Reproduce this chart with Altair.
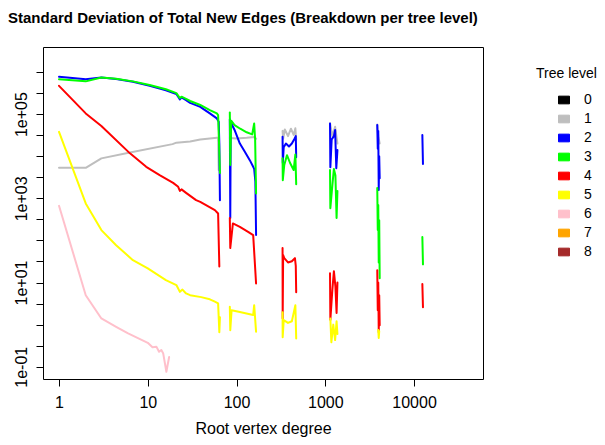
import altair as alt
import pandas as pd

FONT = "Liberation Sans, Arial, Helvetica, sans-serif"

levels = ["0", "1", "2", "3", "4", "5", "6", "7", "8"]
level_colors = ["#000000", "#BEBEBE", "#0000FF", "#00FF00", "#FF0000",
                "#FFFF00", "#FFC0CB", "#FFA500", "#A52A2A"]

x1 = [1, 2, 3, 6.3, 19, 21, 30, 39, 50, 60, 62, 63, None,
      84, 100, 130, 160, 166, None,
      330, 335, 350, 380, 410, 440, 460, 470, None,
      1130, 1200, 1290, 1370, None,
      3850, 3950, 4100]
y1 = [5300, 5300, 8900, 12300, 19400, 21000, 22500, 25000, 26500, 27400, 27400, 4700, None,
      27000, 26500, 27500, 28800, 26000, None,
      40000, 26000, 43000, 30000, 45000, 32000, 46000, 25000, None,
      61000, 30000, 50000, 20000, None,
      57000, 30000, 20000]

x2 = [1, 2, 3, 4.4, 6.8, 10.5, 16, 21, 23, 24, 27, 30, 39, 50, 60, 63, 64, 65, None,
      84, 85, 86, 90, 95, 109, 124, 141, 154, 158, 163, 166, None,
      330, 332, 340, 360, 390, 420, 450, 465, 470, None,
      1130, 1140, 1180, 1250, 1290, 1330, 1370, None,
      3850, 3900, 3950, 4000, 4050, 4100, None,
      12400, 12600]
y2 = [7.7e5, 6.7e5, 7.4e5, 6.8e5, 5.85e5, 4.7e5, 3.7e5, 3.0e5, 2.23e5, 2.5e5, 2.15e5, 1.85e5, 1.49e5,
      1.04e5, 7.9e4, 6.6e4, 2.0e4, 900, None,
      7.6e4, 340, 6.5e4, 5.3e4, 4.2e4, 2.0e4, 1.27e4, 8070, 5600, 5000, 2500, 134, None,
      2.9e4, 6900, 1.64e4, 2.0e4, 1.7e4, 2.0e4, 2.6e4, 3.0e4, 9500, None,
      6.0e4, 5500, 2.5e4, 3.0e4, 4.2e4, 5200, 1.4e4, None,
      5.5e4, 1.5e4, 4.0e4, 1570, 1.0e4, 3000, None,
      3.2e4, 6500]

x3 = [1, 2, 3, 4.4, 6.8, 10.5, 16, 21, 23, 24, 27, 30, 39, 50, 60, 62, 64, 65, None,
      84, 85, 87, 95, 110, 130, 150, 158, 162, 166, None,
      330, 332, 345, 370, 400, 440, 460, 470, None,
      1130, 1140, 1200, 1250, 1300, 1340, 1370, None,
      3850, 3900, 3950, 4000, 4050, 4100, None,
      12400, 12600]
y3 = [6.7e5, 6.0e5, 7.4e5, 6.9e5, 6.0e5, 4.9e5, 3.9e5, 3.15e5, 2.4e5, 2.6e5, 2.3e5, 2.05e5, 1.65e5,
      1.25e5, 1.04e5, 9.5e4, 1.2e4, 4000, None,
      1.1e5, 6200, 7.0e4, 5.5e4, 4.5e4, 3.7e4, 3.3e4, 6.0e4, 2.5e4, 1300, None,
      9000, 2700, 6200, 1.06e4, 7000, 4700, 1.1e4, 2170, None,
      4700, 585, 2000, 5000, 3500, 340, 1500, None,
      1750, 176, 690, 30, 300, 12.7, None,
      120, 27]

x4 = [1, 2, 3, 6.3, 9.6, 13.6, 19.3, 22, 23, 24, 27, 35, 39, 57, 62, 64, None,
      84, 85, 91, 109, 135, 154, 166, None,
      330, 331, 335, 345, 380, 420, 455, 465, 470, None,
      1130, 1140, 1200, 1250, 1300, 1340, 1370, None,
      3850, 3900, 3950, 4000, 4050, 4100, None,
      12400, 12600]
y4 = [4.7e5, 1.04e5, 5.2e4, 1.17e4, 5600, 3560, 2330, 1880, 1500, 1630, 1350, 906, 826, 525, 437, 24, None,
      340, 66, 254, 210, 160, 134, 9.5, None,
      66, 1.4, 45, 38, 30, 32, 38, 25, 5.9, None,
      16.7, 1.3, 6.6, 18.6, 8, 1.9, 10, None,
      19.7, 2.2, 10, 0.66, 5, 0.97, None,
      9.2, 2.6]

x5 = [1, 2, 3, 4.4, 6.8, 10, 16, 21, 23, 24.6, 27, 30, 40, 50, 57, 62, 64, 65, None,
      84, 85, 88, 109, 154, 158, 166, None,
      330, 331, 340, 380, 420, 460, 470, None,
      1140, 1170, 1230, 1290, 1340, 1370, None,
      3950, 4000, 4050]
y5 = [3.8e4, 757, 176, 77, 34, 21.6, 11.4, 8.7, 6.0, 6.8, 5.5, 5.0, 4.5, 4.0, 3.5, 3.2, 0.66, 1.5, None,
      2.65, 0.74, 2.2, 2.0, 1.7, 2.9, 0.68, None,
      1.98, 0.5, 1.28, 1.1, 1.2, 2.9, 0.47, None,
      1.4, 0.38, 1.0, 0.43, 1.2, 0.6, None,
      0.75, 0.48, 0.7]

x6 = [1, 2, 3, 4.4, 6, 10, 11.3, 12.5, 13.4, 14.2, 14.9, 16.2, 17.4]
y6 = [663, 5.0, 1.4, 0.89, 0.62, 0.37, 0.29, 0.30, 0.226, 0.25, 0.21, 0.076, 0.17]

series = [("1", x1, y1), ("2", x2, y2), ("3", x3, y3),
          ("4", x4, y4), ("5", x5, y5), ("6", x6, y6)]

x_ticks = [1, 10, 100, 1000, 10000]
y_ticks = [0.1, 0.31623, 1, 3.1623, 10, 31.623, 100, 316.23, 1000, 3162.3,
           10000, 31623, 100000, 316228, 1000000]
y_label_vals = [0.1, 10, 1000, 100000]
y_label_text = ["1e-01", "1e+01", "1e+03", "1e+05"]

rows = []
for lvl, xs, ys in series:
    seg = 0
    i = 0
    for xv, yv in zip(xs, ys):
        if xv is None:
            seg += 1
            continue
        rows.append({"level": lvl, "seg": f"{lvl}-{seg}", "deg": xv, "sd": yv, "i": i})
        i += 1
df = pd.DataFrame(rows)

label_expr = "".join(
    f"datum.value == {v} ? '{t}' : " for v, t in zip(y_label_vals, y_label_text)
) + "''"

x_axis = alt.Axis(values=x_ticks, format="d", title="Root vertex degree",
                  labelFontSize=16, titleFontSize=16, titleFontWeight="normal",
                  tickSize=7, labelPadding=8, titlePadding=10, domain=False,
                  grid=False, tickColor="black", labelColor="black",
                  titleColor="black", labelFont=FONT, titleFont=FONT,
                  labelFlush=False, labelOverlap=False)
y_axis = alt.Axis(values=y_ticks, labelExpr=label_expr, title=None,
                  labelFontSize=16, labelAngle=270, tickSize=7, labelPadding=7,
                  domain=False, grid=False, tickColor="black", labelColor="black",
                  labelFont=FONT, labelFlush=False, labelOverlap=False)


def tree_legend():
    return alt.Legend(
        title="Tree level", orient="none", legendX=493, legendY=20,
        titleFontSize=14, titleFontWeight="normal", titleFont=FONT,
        titleColor="black", labelFontSize=14, labelFont=FONT,
        labelColor="black", symbolType="M-1,-0.7H1V0.7H-1Z",
        symbolSize=121, symbolStrokeColor="#333333", symbolStrokeWidth=1,
        symbolOpacity=1, symbolOffset=21, labelOffset=13,
        rowPadding=5, titlePadding=12, padding=0)


lines = alt.Chart(df).mark_line(strokeWidth=2, clip=True, strokeCap="round",
                                strokeJoin="round").encode(
    x=alt.X("deg:Q", scale=alt.Scale(type="log", domain=[0.66, 59800], nice=False),
            axis=x_axis),
    y=alt.Y("sd:Q", scale=alt.Scale(type="log", domain=[0.0511, 3.93e6], nice=False),
            axis=y_axis),
    color=alt.Color("level:N", scale=alt.Scale(domain=levels, range=level_colors),
                    legend=tree_legend()),
    detail="seg:N",
    order="i:Q",
)

legend_df = pd.DataFrame({"level": levels})
legend_layer = alt.Chart(legend_df).mark_square(opacity=0).encode(
    fill=alt.Fill("level:N", scale=alt.Scale(domain=levels, range=level_colors),
                  legend=tree_legend()),
)

chart = alt.layer(lines, legend_layer).properties(
    width=440, height=332,
    background="white",
    autosize=alt.AutoSizeParams(type="none"),
    padding={"left": 35, "top": 39, "right": 114, "bottom": 58},
    title=alt.TitleParams(
        text="Standard Deviation of Total New Edges (Breakdown per tree level)",
        anchor="start", frame="group", dx=-35, dy=16, offset=25, baseline="alphabetic",
        fontSize=15, fontWeight="bold", font=FONT, color="black"),
).configure_view(stroke="black", strokeWidth=1)

chart.save("out.html", embed_options={"renderer": "svg", "actions": False})
